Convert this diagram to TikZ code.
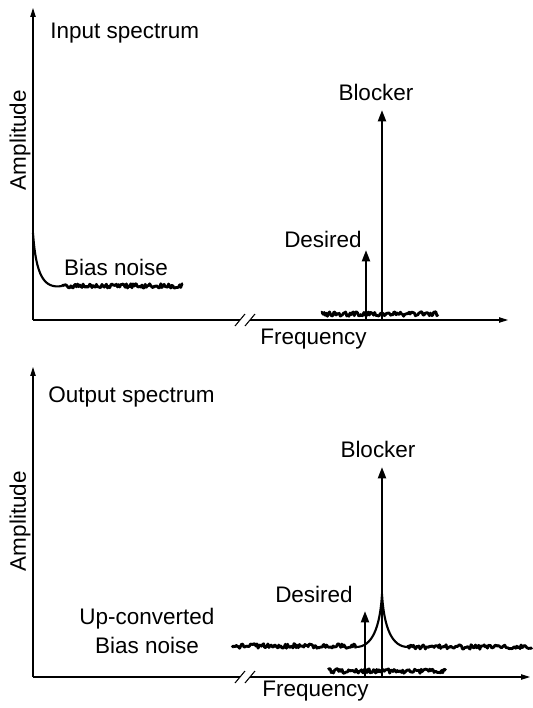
\documentclass[tikz,border=0pt]{standalone}
\usepackage{fontspec}
\setmainfont{Liberation Sans}
\usetikzlibrary{positioning,arrows.meta}

\begin{document}
\begin{tikzpicture}[
    x=0.02cm,
    y=-0.02cm,
    lbl/.style={
        font=\fontsize{12.8}{16.5}\selectfont,
        inner sep=0pt
    },
    axis/.style={
        -{Triangle[length=5pt,width=3pt]},
        line width=0.6pt
    },
    tone/.style={
        -{Triangle[length=6.5pt,width=4.5pt]},
        line width=1.4pt
    },
    curve/.style={
        line width=1.2pt
    },
    noise/.style={
        line width=1.6pt,
        line join=round
    }
]
\useasboundingbox (0,0) rectangle (532,708);
\pgfmathsetseed{11}

% ---- input spectrum ----
\coordinate (inO) at (33,320);
\coordinate (inTop) at (33,8);
\coordinate (inEnd) at (508,320);
\coordinate (inBrA) at (240,320);
\coordinate (inBrB) at (250,320);

\draw[axis]
(inO) -- (inTop);

\draw[line width=0.6pt]
(inO) -- (inBrA);

\draw[axis]
(inBrB) -- (inEnd);

\draw[line width=0.6pt]
(235,326) -- (245,314)
(245,326) -- (255,314);

\node[lbl,anchor=west] (inTitle) at (50,33)
{Input spectrum};

\node[lbl,rotate=90] (inAmp) at (20,140)
{Amplitude};

\node[lbl] (inBias) at (116,267)
{Bias noise};

\node[lbl,anchor=west] (inFreq) at (260,339)
{Frequency};

\draw[curve]
(33,233) .. controls (36,276) and (44,289) .. (62,286);

\draw[noise]
plot[domain=62:183,samples=110] (\x,{286+2.3*rand});

\draw[noise]
plot[domain=321:438,samples=110] (\x,{314+2.3*rand});

\coordinate (inDes) at (366,320);
\coordinate (inDesTip) at (366,250);
\coordinate (inBlk) at (382,320);
\coordinate (inBlkTip) at (382,110);

\node[lbl] (inDesired) at (323,239)
{Desired};

\node[lbl] (inBlocker) at (376,92)
{Blocker};

\draw[tone]
(inDes) -- (inDesTip);

\draw[tone]
(inBlk) -- (inBlkTip);

% ---- output spectrum ----
\coordinate (outO) at (33,677);
\coordinate (outTop) at (33,367);
\coordinate (outEnd) at (530,677);
\coordinate (outBrA) at (240,677);
\coordinate (outBrB) at (250,677);

\draw[axis]
(outO) -- (outTop);

\draw[line width=0.6pt]
(outO) -- (outBrA);

\draw[axis]
(outBrB) -- (outEnd);

\draw[line width=0.6pt]
(235,683) -- (245,671)
(245,683) -- (255,671);

\node[lbl,anchor=west] (outTitle) at (48,397)
{Output spectrum};

\node[lbl,rotate=90] (outAmp) at (20,521)
{Amplitude};

\node[lbl,align=center] (outBias) at (147,631)
{Up-converted\\Bias noise};

\node[lbl,anchor=west] (outFreq) at (262,691)
{Frequency};

\draw[noise]
plot[domain=232:356,samples=115] (\x,{646+2.3*rand});

\draw[curve]
(356,647) .. controls (372,647) and (380,628) .. (382,594)
.. controls (384,628) and (392,647) .. (408,647);

\draw[noise]
plot[domain=408:532,samples=115] (\x,{647+2.3*rand});

\draw[noise]
plot[domain=328:446,samples=110] (\x,{671+2.3*rand});

\coordinate (outDes) at (365,677);
\coordinate (outDesTip) at (365,611);
\coordinate (outBlk) at (382,677);
\coordinate (outBlkTip) at (382,467);

\node[lbl] (outDesired) at (314,594)
{Desired};

\node[lbl] (outBlocker) at (378,449)
{Blocker};

\draw[tone]
(outDes) -- (outDesTip);

\draw[tone]
(outBlk) -- (outBlkTip);

\end{tikzpicture}
\end{document}
